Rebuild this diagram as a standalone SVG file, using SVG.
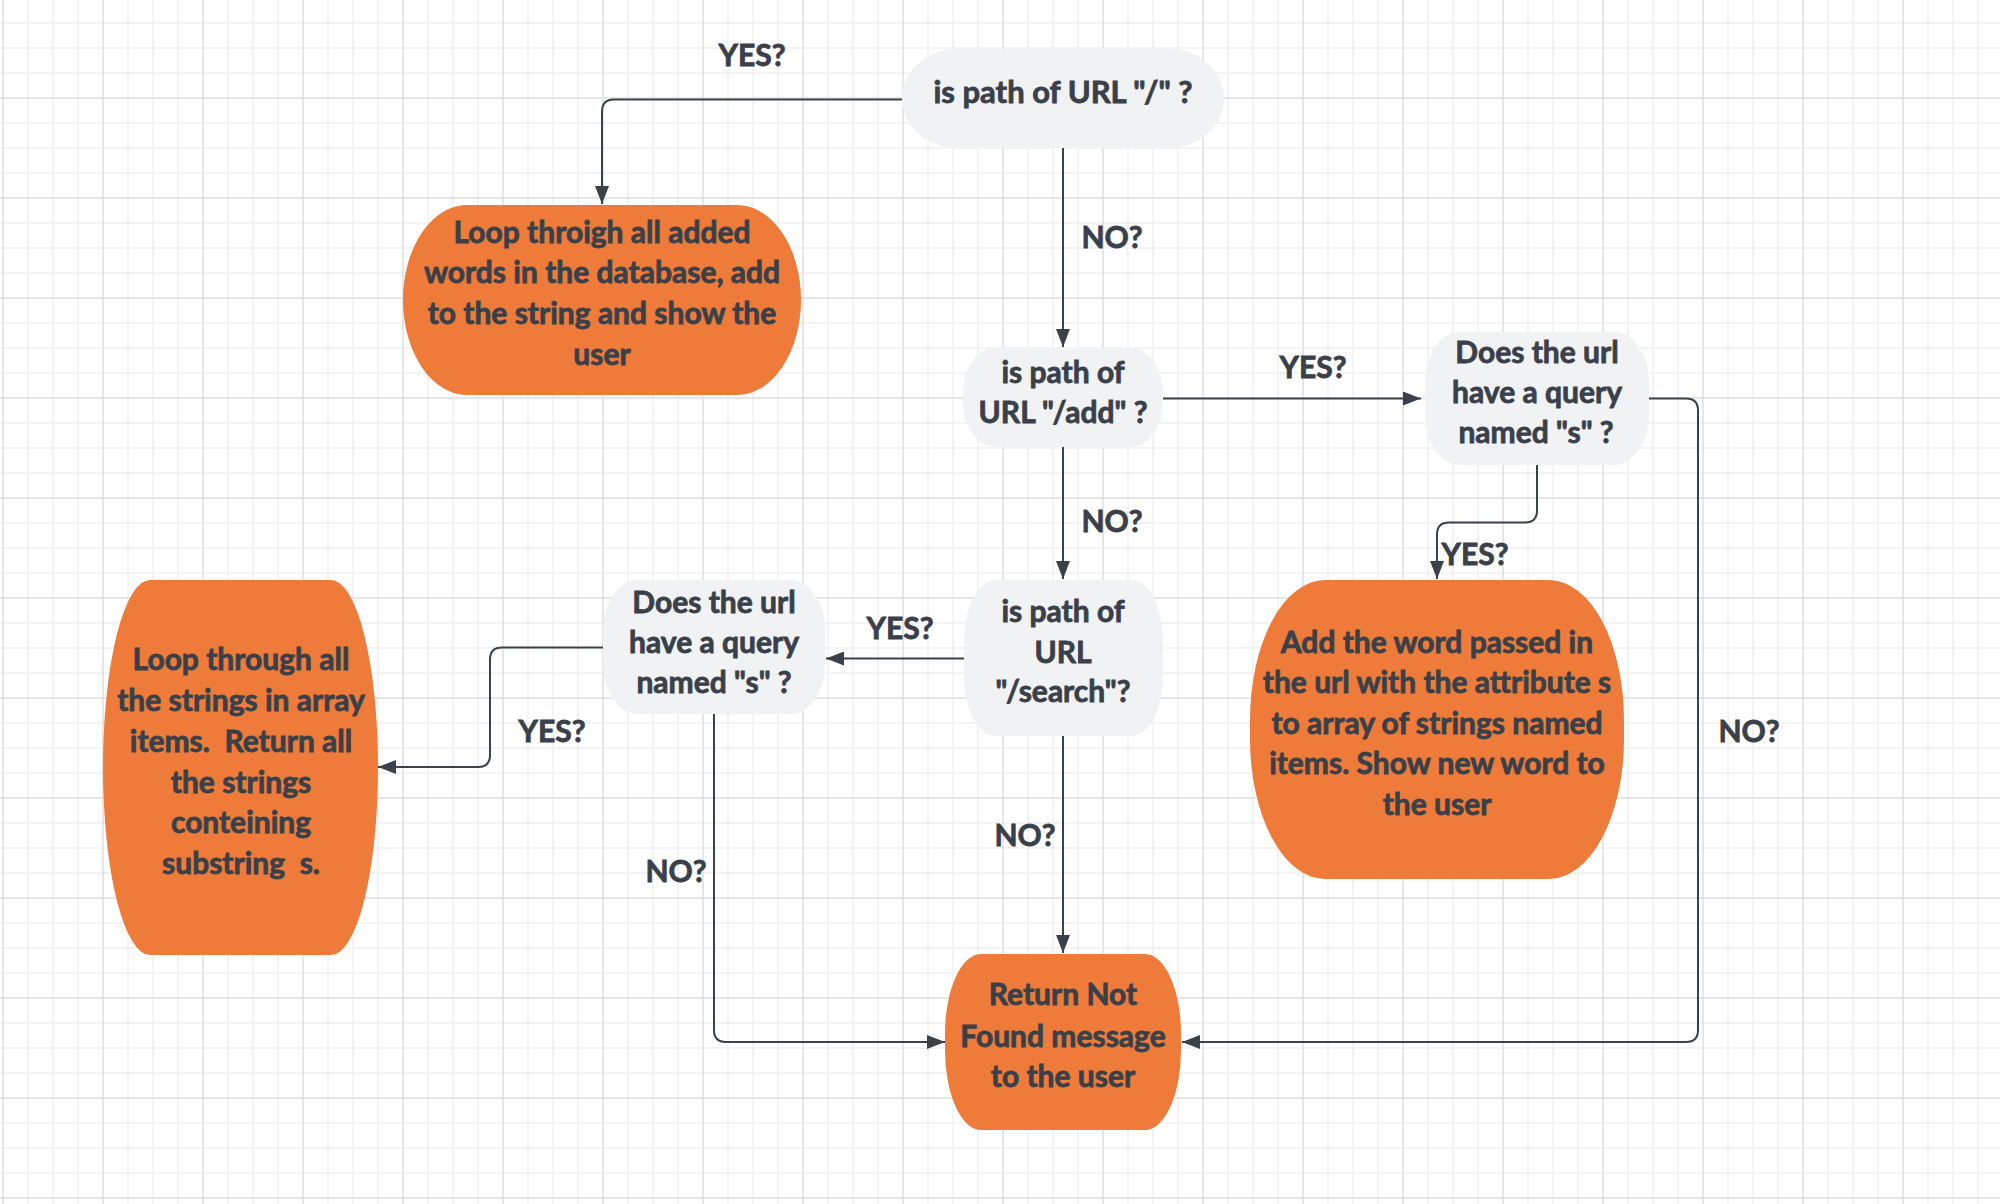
<svg xmlns="http://www.w3.org/2000/svg" width="2000" height="1204" viewBox="0 0 2000 1204">
<defs>
<pattern id="grid" x="2" y="-3" width="100" height="100" patternUnits="userSpaceOnUse">
<rect width="100" height="100" fill="#ffffff"/>
<path d="M26 0V100M51 0V100M76 0V100M0 26H100M0 51H100M0 76H100" stroke="#efefef" stroke-width="1.5" fill="none"/>
<path d="M1 0V100M0 1H100" stroke="#dedede" stroke-width="1.5" fill="none"/>
</pattern>
<marker id="arr" viewBox="0 0 18 14" refX="18" refY="7" markerWidth="18" markerHeight="14" markerUnits="userSpaceOnUse" orient="auto">
<path d="M0 0L18 7L0 14Z" fill="#3b4149"/>
</marker>
<style>
.t{font-family:Lato,"Noto Sans","Liberation Sans",sans-serif;font-weight:700;font-size:30px;fill:#3a4049;stroke:#3a4049;stroke-width:0.8px;text-anchor:middle}
.dec{fill:#f1f2f4}
.act{fill:#ee7b3a}
.c{fill:none;stroke:#3b4149;stroke-width:2;marker-end:url(#arr)}
</style>
</defs>
<rect width="2000" height="1204" fill="url(#grid)"/>

<g id="connectors">
<path class="c" d="M902 99.5H614Q602 99.5 602 111.5V204"/>
<path class="c" d="M1063 148V347"/>
<path class="c" d="M1163 398.5H1421"/>
<path class="c" d="M1063 447V579"/>
<path class="c" d="M1537 465V510.5Q1537 522.5 1525 522.5H1449Q1437 522.5 1437 534.5V579"/>
<path class="c" d="M1649 398.5H1686Q1698 398.5 1698 410.5V1030Q1698 1042 1686 1042H1182"/>
<path class="c" d="M964 658.5H826"/>
<path class="c" d="M603 647.5H502Q490 647.5 490 659.5V755Q490 767 478 767H378"/>
<path class="c" d="M714 714V1030Q714 1042 726 1042H945"/>
<path class="c" d="M1063 736V953"/>
</g>

<g id="labels">
<text class="t" x="752" y="66">YES?</text>
<text class="t" x="1112" y="248">NO?</text>
<text class="t" x="1313" y="378">YES?</text>
<text class="t" x="1112" y="532">NO?</text>
<text class="t" x="1475" y="565">YES?</text>
<text class="t" x="1749" y="742">NO?</text>
<text class="t" x="900" y="639">YES?</text>
<text class="t" x="552" y="742">YES?</text>
<text class="t" x="676" y="882">NO?</text>
<text class="t" x="1025" y="846">NO?</text>
</g>

<g id="n1">
<rect class="dec" x="902" y="49" width="322" height="99" rx="55" ry="49.5"/>
<text class="t" x="1063" y="103" style="font-size:31px">is path of URL "/" ?</text>
</g>

<g id="n2">
<rect class="act" x="403" y="205" width="398" height="190" rx="64" ry="95"/>
<text class="t" x="602" y="243">Loop throigh all added</text>
<text class="t" x="602" y="283">words in the database, add</text>
<text class="t" x="602" y="324">to the string and show the</text>
<text class="t" x="602" y="365">user</text>
</g>

<g id="n3">
<rect class="dec" x="963" y="348" width="200" height="99" rx="32" ry="45"/>
<text class="t" x="1063" y="383">is path of</text>
<text class="t" x="1063" y="423">URL "/add" ?</text>
</g>

<g id="n4">
<rect class="dec" x="1425" y="332" width="224" height="133" rx="35" ry="50"/>
<text class="t" x="1537" y="363">Does the url</text>
<text class="t" x="1537" y="403">have a query</text>
<text class="t" x="1536" y="443">named "s" ?</text>
</g>

<g id="n5">
<rect class="dec" x="603" y="580" width="222" height="134" rx="35" ry="50"/>
<text class="t" x="714" y="613">Does the url</text>
<text class="t" x="714" y="653">have a query</text>
<text class="t" x="714" y="693">named "s" ?</text>
</g>

<g id="n6">
<rect class="dec" x="964" y="580" width="199" height="156" rx="32" ry="60"/>
<text class="t" x="1063" y="622">is path of</text>
<text class="t" x="1063" y="663">URL</text>
<text class="t" x="1063" y="702">"/search"?</text>
</g>

<g id="n7">
<rect class="act" x="103" y="580" width="275" height="375" rx="47" ry="187"/>
<text class="t" x="241" y="670">Loop through all</text>
<text class="t" x="241" y="711">the strings in array</text>
<text class="t" x="241" y="752" xml:space="preserve">items.  Return all</text>
<text class="t" x="241" y="793">the strings</text>
<text class="t" x="241" y="833">conteining</text>
<text class="t" x="241" y="874" xml:space="preserve">substring  s.</text>
</g>

<g id="n8">
<rect class="act" x="1250" y="580" width="374" height="299" rx="75" ry="140"/>
<text class="t" x="1437" y="653">Add the word passed in</text>
<text class="t" x="1437" y="693">the url with the attribute s</text>
<text class="t" x="1437" y="734">to array of strings named</text>
<text class="t" x="1437" y="774">items. Show new word to</text>
<text class="t" x="1437" y="815">the user</text>
</g>

<g id="n9">
<rect class="act" x="945" y="954" width="236" height="176" rx="36" ry="80"/>
<text class="t" x="1063" y="1005">Return Not</text>
<text class="t" x="1063" y="1047">Found message</text>
<text class="t" x="1063" y="1087">to the user</text>
</g>
</svg>
